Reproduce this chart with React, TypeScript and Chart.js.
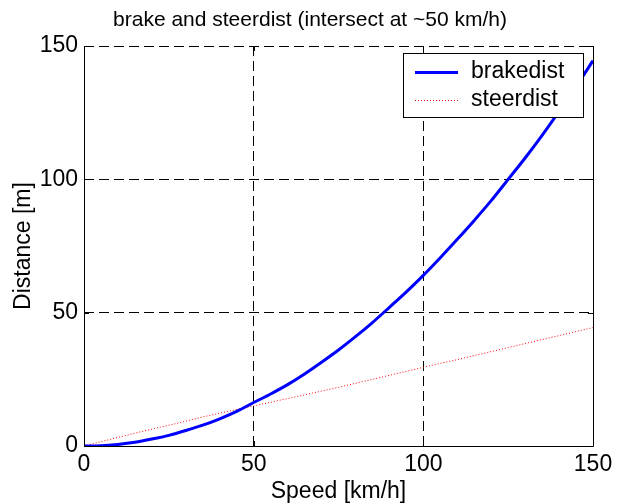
import React, { useEffect, useRef } from "react";
import { Chart, registerables } from "chart.js";

Chart.register(...registerables);

const titleText = "brake and steerdist (intersect at ~50 km/h)";
const xAxisLabel = "Speed [km/h]";
const yAxisLabel = "Distance [m]";
const seriesLabels = ["brakedist", "steerdist"];

const speeds = [0, 5, 10, 15, 20, 25, 30, 35, 40, 45, 50, 55, 60, 65, 70, 75, 80, 85, 90, 95, 100, 105, 110, 115, 120, 125, 130, 135, 140, 145, 150];
const brakeDist = [0, 0.1, 0.6, 1.4, 2.6, 4.0, 5.8, 7.8, 10.2, 13.0, 16.3, 19.5, 23.0, 27.0, 31.4, 36.0, 41.0, 46.3, 52.0, 57.8, 64.0, 70.6, 77.5, 84.6, 92.0, 100.0, 108.0, 116.5, 125.5, 134.8, 144.5];
const steerDist = [0, 1.6, 3.2, 4.8, 6.3, 7.8, 9.3, 10.9, 12.3, 13.7, 15.0, 16.4, 17.8, 19.2, 20.6, 22.0, 23.5, 25.0, 26.5, 28.0, 29.5, 31.0, 32.4, 33.9, 35.4, 36.9, 38.4, 39.9, 41.4, 42.9, 44.4];

const xTicks = [0, 50, 100, 150];
const yTicks = [0, 50, 100, 150];

const FONT = "'Liberation Sans', Arial, Helvetica, sans-serif";

const boxPlugin = {
  id: "matlabBox",
  afterDraw(chart: any) {
    const { ctx, chartArea: a, scales } = chart;
    ctx.save();
    // title
    ctx.fillStyle = "#000";
    ctx.font = `21px ${FONT}`;
    ctx.textAlign = "center";
    ctx.textBaseline = "middle";
    ctx.fillText(titleText, 310, 20);

    ctx.strokeStyle = "#000";
    ctx.lineWidth = 1;
    ctx.setLineDash([]);
    ctx.beginPath();
    ctx.moveTo(a.left + 0.5, a.top);
    ctx.lineTo(a.left + 0.5, a.bottom + 0.5);
    ctx.lineTo(a.right + 0.5, a.bottom + 0.5);
    ctx.lineTo(a.right + 0.5, a.top);
    ctx.stroke();
    // inward ticks
    const tl = 5;
    ctx.beginPath();
    xTicks.forEach((v) => {
      const x = Math.round(scales.x.getPixelForValue(v)) + 0.5;
      ctx.moveTo(x, a.bottom);
      ctx.lineTo(x, a.bottom - tl);
      ctx.moveTo(x, a.top);
      ctx.lineTo(x, a.top + tl);
    });
    yTicks.forEach((v) => {
      const y = Math.round(scales.y.getPixelForValue(v)) + 0.5;
      ctx.moveTo(a.left, y);
      ctx.lineTo(a.left + tl, y);
      ctx.moveTo(a.right, y);
      ctx.lineTo(a.right - tl, y);
    });
    ctx.stroke();

    // legend
    const lx = 403, ly = 53, lw = 180, lh = 64;
    ctx.fillStyle = "#fff";
    ctx.fillRect(lx, ly, lw, lh);
    ctx.strokeStyle = "#000";
    ctx.strokeRect(lx + 0.5, ly + 0.5, lw, lh);
    const rows = [
      { label: seriesLabels[0], color: "#0000ff", width: 3, dash: [] as number[], y: ly + 19 },
      { label: seriesLabels[1], color: "#ff0000", width: 1, dash: [1, 2], y: ly + 47 },
    ];
    ctx.font = `23px ${FONT}`;
    ctx.textBaseline = "middle";
    ctx.textAlign = "left";
    rows.forEach((r) => {
      ctx.strokeStyle = r.color;
      ctx.lineWidth = r.width;
      ctx.setLineDash(r.dash);
      ctx.beginPath();
      ctx.moveTo(lx + 12, r.y + 0.5);
      ctx.lineTo(lx + 55, r.y + 0.5);
      ctx.stroke();
      ctx.fillStyle = "#000";
      ctx.fillText(r.label, lx + 68, r.y);
    });
    ctx.restore();
  },
};

export default function App() {
  const ref = useRef<HTMLCanvasElement>(null);

  useEffect(() => {
    if (!ref.current) return;
    const gridColor = (ctx: any, ends: number[]) =>
      ends.includes(ctx.tick?.value) ? "rgba(0,0,0,0)" : "#000";
    const chart = new Chart(ref.current, {
      type: "line",
      data: {
        datasets: [
          {
            label: seriesLabels[0],
            data: speeds.map((s, i) => ({ x: s, y: brakeDist[i] })),
            borderColor: "#0000ff",
            borderWidth: 3,
            pointRadius: 0,
            cubicInterpolationMode: "monotone",
            fill: false,
          },
          {
            label: seriesLabels[1],
            data: speeds.map((s, i) => ({ x: s, y: steerDist[i] })),
            borderColor: "#ff0000",
            borderWidth: 1,
            borderDash: [1, 2],
            pointRadius: 0,
            fill: false,
          },
        ],
      },
      options: {
        responsive: false,
        animation: false,
        devicePixelRatio: 1,
        layout: { padding: { top: 46, right: 32, bottom: 0, left: 0 } },
        plugins: {
          legend: { display: false },
          tooltip: { enabled: false },
          title: { display: false },
        },
        scales: {
          x: {
            type: "linear",
            min: 0,
            max: 150,
            afterBuildTicks: (s: any) => {
              s.ticks = xTicks.map((v) => ({ value: v }));
            },
            afterFit: (s: any) => {
              s.height = 58;
            },
            ticks: {
              color: "#000",
              font: { family: FONT, size: 23 },
              padding: 5,
              maxRotation: 0,
            },
            grid: {
              drawTicks: false,
              color: (c: any) => gridColor(c, [0, 150]),
              lineWidth: 1,
            },
            border: { display: false, dash: [10, 5] },
            title: {
              display: true,
              text: xAxisLabel,
              color: "#000",
              font: { family: FONT, size: 23 },
              padding: { top: 0, bottom: -1 },
            },
          },
          y: {
            type: "linear",
            min: 0,
            max: 150,
            afterBuildTicks: (s: any) => {
              s.ticks = yTicks.map((v) => ({ value: v }));
            },
            afterFit: (s: any) => {
              s.width = 84;
            },
            ticks: {
              color: "#000",
              font: { family: FONT, size: 23 },
              padding: 6,
            },
            grid: {
              drawTicks: false,
              color: (c: any) => gridColor(c, [0]),
              lineWidth: 1,
            },
            border: { display: false, dash: [10, 5] },
            title: {
              display: true,
              text: yAxisLabel,
              color: "#000",
              font: { family: FONT, size: 23 },
              padding: { top: 10, bottom: 0 },
            },
          },
        },
      },
      plugins: [boxPlugin],
    } as any);
    return () => chart.destroy();
  }, []);

  return (
    <div style={{ position: "absolute", left: 0, top: 0, width: 625, height: 504, background: "#fff" }}>
      <canvas ref={ref} width={625} height={504} />
    </div>
  );
}
